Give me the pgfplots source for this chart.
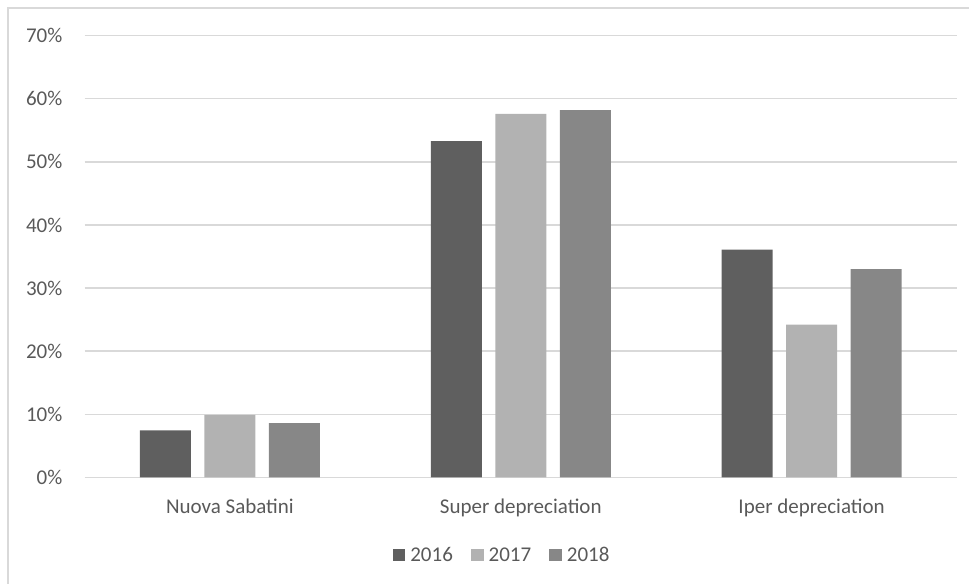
\documentclass[border=0pt]{standalone}
\usepackage{pgfplots}
\pgfplotsset{compat=1.18}
\usepackage{fontspec}
\setmainfont{Carlito}

\definecolor{txt}{HTML}{595959}
\definecolor{gridc}{HTML}{D9D9D9}
\definecolor{cA}{HTML}{5F5F5F}
\definecolor{cB}{HTML}{B2B2B2}
\definecolor{cC}{HTML}{878787}

\begin{document}
\begin{tikzpicture}[x=1bp,y=1bp]
\useasboundingbox (0,0) rectangle (969,584);
% chart frame (left and top edges)
\draw[draw=gridc, line width=1.2bp] (8,0) -- (8,576) -- (969,576);
\begin{axis}[
  at={(84.5bp,106.7bp)}, anchor=south west,
  scale only axis, width=872.5bp, height=441.6bp,
  ybar, bar width=51bp,
  xmin=-0.5, xmax=2.5, ymin=0, ymax=70,
  xtick={0,1,2},
  xticklabels={Nuova Sabatini, Super depreciation, Iper depreciation},
  ytick={0,10,...,70},
  yticklabel={\pgfmathprintnumber{\tick}\%},
  /pgf/number format/assume math mode=true,
  major tick length=0pt,
  xtick style={draw=none}, ytick style={draw=none},
  axis line style={draw=none},
  xmajorgrids=false, ymajorgrids=true,
  major grid style={draw=gridc, line width=1.4bp},
  font=\fontsize{21bp}{25bp}\selectfont,
  ticklabel style={text=txt, font=\fontsize{21bp}{25bp}\selectfont},
  yticklabel style={inner sep=0pt, anchor=east, xshift=-22bp},
  xticklabel style={inner sep=0pt, anchor=north, yshift=-21bp},
  legend image code/.code={\fill[#1] (0bp,-6.35bp) rectangle (12.7bp,6.35bp);},
  legend columns=3,
  legend style={draw=none, fill=none, at={(0.4774,-0.176)}, anchor=center,
    text=txt, font=\fontsize{21bp}{25bp}\selectfont,
    nodes={inner sep=0pt},
    /tikz/every odd column/.append style={column sep=5bp},
    /tikz/every even column/.append style={column sep=18bp}},
]
\addplot[fill=cA, draw=none, bar shift=-64.5bp] coordinates {(0,7.45) (1,53.3) (2,36.1)};
\addplot[fill=cB, draw=none, bar shift=0bp] coordinates {(0,9.9) (1,57.6) (2,24.2)};
\addplot[fill=cC, draw=none, bar shift=64.5bp] coordinates {(0,8.6) (1,58.2) (2,33.0)};
\legend{2016, 2017, 2018}
\end{axis}
\end{tikzpicture}
\end{document}
